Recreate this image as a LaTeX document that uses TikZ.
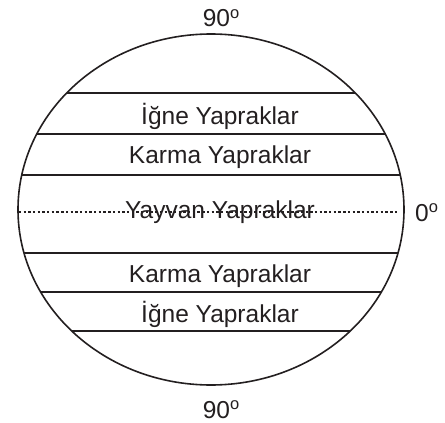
\documentclass[tikz,border=0pt]{standalone}
\usepackage{fontspec}
\setmainfont{Liberation Sans}
\usetikzlibrary{positioning}
\definecolor{inkgray}{HTML}{231F20}
\newcommand{\degmark}{\raisebox{8.4pt}{\fontsize{16.5}{16.5}\selectfont o}}

\begin{document}
\begin{tikzpicture}[x=1pt,y=-1pt]
  \tikzstyle{belt}=[font=\fontsize{24.5}{28}\selectfont,text=inkgray,anchor=base,inner sep=0pt]
  \tikzstyle{border}=[draw=inkgray,line width=1.6pt]
  \tikzstyle{equatorline}=[draw=inkgray,line width=2pt,dash pattern=on 2.4pt off 2.3pt]

  \useasboundingbox (0,0) rectangle (445,423);

  % Belt borders, cut at the globe outline
  \begin{scope}
    \clip (211,209.5) ellipse [x radius=193pt, y radius=175.5pt];
    \foreach \yy in {93,134,175,253,292,331}
      \draw[border] (0,\yy) -- (445,\yy);
    \draw[equatorline] (0,212) -- (399,212);
  \end{scope}

  % Globe outline
  \draw[border] (211,209.5) ellipse [x radius=193pt, y radius=175.5pt];

  % Vegetation belts
  \node[belt] (igneN) at (220,124) {İğne Yapraklar};
  \node[belt] (karmaN) at (220,163.5) {Karma Yapraklar};
  \node[belt] (yayvan) at (220,218) {Yayvan Yapraklar};
  \node[belt] (karmaS) at (220,282.5) {Karma Yapraklar};
  \node[belt] (igneS) at (220,322) {İğne Yapraklar};

  % Latitudes
  \node[belt] (north) at (221,26.5) {90\degmark};
  \node[belt] (south) at (221,418) {90\degmark};
  \node[belt,anchor=base west] (equator) at (415,221) {0\degmark};
\end{tikzpicture}
\end{document}
